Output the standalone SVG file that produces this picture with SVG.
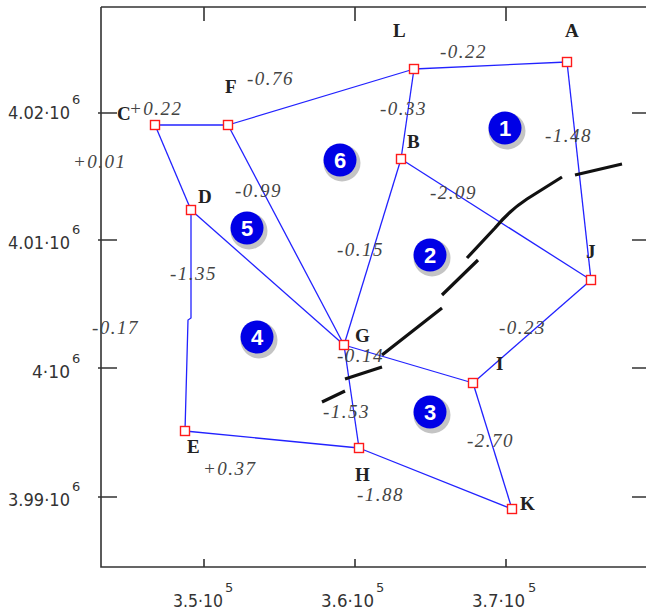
<svg xmlns="http://www.w3.org/2000/svg" width="646" height="614" viewBox="0 0 646 614">
<style>
.ax{stroke:#333;stroke-width:1.6;fill:none}
.e{stroke:#2222ff;stroke-width:1.3;fill:none}
.f{stroke:#111;stroke-width:3.2;fill:none;stroke-linecap:butt}
.n{fill:#fff;stroke:#ff1a1a;stroke-width:1.4}
.lb{font-family:"Liberation Serif",serif;font-weight:bold;font-size:19px;fill:#222}
.v{font-family:"Liberation Serif",serif;font-style:italic;font-size:19px;fill:#444;letter-spacing:1.5px}
.t{font-family:"DejaVu Sans","Liberation Sans",sans-serif;font-size:17px;fill:#333}
.ts{font-family:"DejaVu Sans","Liberation Sans",sans-serif;font-size:13px;fill:#333}
.bs{fill:#c4c4c4}
.bc{fill:#0000e6}
.bt{font-family:"Liberation Sans",sans-serif;font-weight:bold;font-size:22px;fill:#fff;text-anchor:middle}
</style>
<rect width="646" height="614" fill="#fff"/>
<g id="axes">
<path class="ax" d="M101,7 H650 M101,7 V567 H650"/>
<path class="ax" d="M204,7 v14 M355,7 v14 M506,7 v14 M204,567 v-8 M355,567 v-8 M506,567 v-8 M98,113 h19 M98,240 h19 M98,368 h19 M98,497 h19 M632,113 h14 M632,240 h14 M632,368 h14 M632,497 h14"/>
<text class="t" x="8" y="119" textLength="62" lengthAdjust="spacingAndGlyphs">4.02·10</text><text class="ts" x="72" y="104">6</text>
<text class="t" x="8" y="249" textLength="62" lengthAdjust="spacingAndGlyphs">4.01·10</text><text class="ts" x="72" y="234">6</text>
<text class="t" x="32" y="378" textLength="38" lengthAdjust="spacingAndGlyphs">4·10</text><text class="ts" x="72" y="363">6</text>
<text class="t" x="8" y="506" textLength="62" lengthAdjust="spacingAndGlyphs">3.99·10</text><text class="ts" x="72" y="491">6</text>
<text class="t" x="173" y="607" textLength="50" lengthAdjust="spacingAndGlyphs">3.5·10</text><text class="ts" x="225" y="592">5</text>
<text class="t" x="321" y="607" textLength="53" lengthAdjust="spacingAndGlyphs">3.6·10</text><text class="ts" x="376" y="592">5</text>
<text class="t" x="472" y="607" textLength="53" lengthAdjust="spacingAndGlyphs">3.7·10</text><text class="ts" x="528" y="592">5</text>
</g>
<g id="connectors">
<line class="e" x1="414" y1="69" x2="567" y2="62"/>
<line class="e" x1="414" y1="69" x2="228" y2="125"/>
<line class="e" x1="228" y1="125" x2="155" y2="125"/>
<line class="e" x1="155" y1="125" x2="191" y2="210"/>
<polyline class="e" points="191,210 191,318 188,320 185,431"/>
<line class="e" x1="185" y1="431" x2="359" y2="448"/>
<line class="e" x1="359" y1="448" x2="512" y2="509"/>
<line class="e" x1="512" y1="509" x2="473" y2="383"/>
<line class="e" x1="473" y1="383" x2="591" y2="280"/>
<line class="e" x1="591" y1="280" x2="567" y2="62"/>
<line class="e" x1="414" y1="69" x2="401" y2="159"/>
<line class="e" x1="401" y1="159" x2="591" y2="280"/>
<line class="e" x1="401" y1="159" x2="344" y2="345"/>
<line class="e" x1="228" y1="125" x2="344" y2="345"/>
<line class="e" x1="191" y1="210" x2="344" y2="345"/>
<line class="e" x1="344" y1="345" x2="473" y2="383"/>
<line class="e" x1="344" y1="345" x2="359" y2="448"/>
</g>
<g id="fault">
<path class="f" d="M322,402 L345,391 M345,379 L382,367 M382,355 L442,308 M442,295 L478,260 M467,258 L495,228 Q510,210 527,199 L562,177 M575,175 L622,164"/>
</g>
<g id="node-A"><rect class="n" x="562.5" y="57.5" width="9" height="9"/><text class="lb" x="565" y="37">A</text></g>
<g id="node-L"><rect class="n" x="409.5" y="64.5" width="9" height="9"/><text class="lb" x="393" y="37">L</text></g>
<g id="node-C"><rect class="n" x="150.5" y="120.5" width="9" height="9"/><text class="lb" x="117" y="120">C</text></g>
<g id="node-F"><rect class="n" x="223.5" y="120.5" width="9" height="9"/><text class="lb" x="225" y="93">F</text></g>
<g id="node-B"><rect class="n" x="396.5" y="154.5" width="9" height="9"/><text class="lb" x="407" y="148">B</text></g>
<g id="node-D"><rect class="n" x="186.5" y="205.5" width="9" height="9"/><text class="lb" x="198" y="203">D</text></g>
<g id="node-J"><rect class="n" x="586.5" y="275.5" width="9" height="9"/><text class="lb" x="586" y="258">J</text></g>
<g id="node-G"><rect class="n" x="339.5" y="340.5" width="9" height="9"/><text class="lb" x="355" y="342">G</text></g>
<g id="node-I"><rect class="n" x="468.5" y="378.5" width="9" height="9"/><text class="lb" x="496" y="370">I</text></g>
<g id="node-E"><rect class="n" x="180.5" y="426.5" width="9" height="9"/><text class="lb" x="187" y="453">E</text></g>
<g id="node-H"><rect class="n" x="354.5" y="443.5" width="9" height="9"/><text class="lb" x="355" y="481">H</text></g>
<g id="node-K"><rect class="n" x="507.5" y="504.5" width="9" height="9"/><text class="lb" x="520" y="510">K</text></g>
<g id="values">
<text class="v" x="440" y="58">-0.22</text>
<text class="v" x="380" y="115">-0.33</text>
<text class="v" x="545" y="142">-1.48</text>
<text class="v" x="247" y="85">-0.76</text>
<text class="v" x="129" y="115">+0.22</text>
<text class="v" x="73" y="168">+0.01</text>
<text class="v" x="235" y="197">-0.99</text>
<text class="v" x="337" y="256">-0.15</text>
<text class="v" x="430" y="199">-2.09</text>
<text class="v" x="170" y="280">-1.35</text>
<text class="v" x="92" y="334">-0.17</text>
<text class="v" x="337" y="362">-0.14</text>
<text class="v" x="499" y="334">-0.23</text>
<text class="v" x="323" y="418">-1.53</text>
<text class="v" x="467" y="447">-2.70</text>
<text class="v" x="357" y="501">-1.88</text>
<text class="v" x="203" y="475">+0.37</text>
</g>
<g id="badge-1"><circle class="bs" cx="507" cy="131" r="18.5"/><circle class="bc" cx="505" cy="128" r="16.5"/><text class="bt" x="505" y="136">1</text></g>
<g id="badge-2"><circle class="bs" cx="432" cy="258" r="18.5"/><circle class="bc" cx="430" cy="255" r="16.5"/><text class="bt" x="430" y="263">2</text></g>
<g id="badge-3"><circle class="bs" cx="432" cy="415" r="18.5"/><circle class="bc" cx="430" cy="412" r="16.5"/><text class="bt" x="430" y="420">3</text></g>
<g id="badge-4"><circle class="bs" cx="259" cy="340" r="18.5"/><circle class="bc" cx="257" cy="337" r="16.5"/><text class="bt" x="257" y="345">4</text></g>
<g id="badge-5"><circle class="bs" cx="249" cy="231" r="18.5"/><circle class="bc" cx="247" cy="228" r="16.5"/><text class="bt" x="247" y="236">5</text></g>
<g id="badge-6"><circle class="bs" cx="342" cy="163" r="18.5"/><circle class="bc" cx="340" cy="160" r="16.5"/><text class="bt" x="340" y="168">6</text></g>
</svg>
